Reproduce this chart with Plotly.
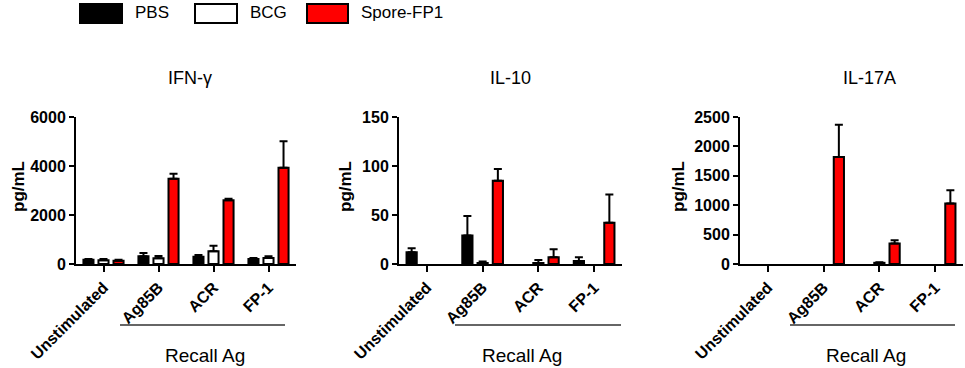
import numpy as np
import plotly.graph_objects as go

W, H = 965, 368
FONT = "Arial, Liberation Sans, sans-serif"

categories = ["Unstimulated", "Ag85B", "ACR", "FP-1"]
groups = ["PBS", "BCG", "Spore-FP1"]
panel_titles = ["IFN-γ", "IL-10", "IL-17A"]

# IFN-gamma (pg/mL): mean and upper error
ifn_pbs = [170, 320, 300, 200]
ifn_pbs_err = [30, 130, 70, 40]
ifn_bcg = [150, 230, 520, 250]
ifn_bcg_err = [50, 100, 230, 70]
ifn_spore = [130, 3480, 2600, 3930]
ifn_spore_err = [40, 200, 60, 1080]

# IL-10 (pg/mL)
il10_pbs = [12, 29, 0, 3]
il10_pbs_err = [4, 20, 0, 4]
il10_bcg = [0, 1, 1, 0]
il10_bcg_err = [0, 1.5, 3, 0]
il10_spore = [0, 85, 7, 42]
il10_spore_err = [0, 12, 8, 29]

# IL-17A (pg/mL)
il17_pbs = [0, 0, 0, 0]
il17_pbs_err = [0, 0, 0, 0]
il17_bcg = [0, 0, 20, 0]
il17_bcg_err = [0, 0, 10, 0]
il17_spore = [0, 1820, 350, 1030]
il17_spore_err = [0, 550, 55, 225]

y_ranges = [[0, 6000], [0, 150], [0, 2500]]
y_tickvals = [[0, 2000, 4000, 6000], [0, 50, 100, 150], [0, 500, 1000, 1500, 2000, 2500]]
y_label = "pg/mL"
recall_label = "Recall Ag"

colors = ["#000000", "#ffffff", "#ff0000"]

panels = [
    [(ifn_pbs, ifn_pbs_err), (ifn_bcg, ifn_bcg_err), (ifn_spore, ifn_spore_err)],
    [(il10_pbs, il10_pbs_err), (il10_bcg, il10_bcg_err), (il10_spore, il10_spore_err)],
    [(il17_pbs, il17_pbs_err), (il17_bcg, il17_bcg_err), (il17_spore, il17_spore_err)],
]

# layout geometry (pixels)
x_doms_px = [(76, 296), (399, 622), (740, 963)]
y_top_px, y_bot_px = 117, 264


def px_x(px):
    return px / W


def px_y(py):
    return (H - py) / H


def err_arrays(vals, errs):
    # no error bar drawn where both the value and its error are zero
    up = np.array([e if (v or e) else np.nan for v, e in zip(vals, errs)], dtype=float)
    down = np.array([0.0 if (v or e) else np.nan for v, e in zip(vals, errs)], dtype=float)
    return up, down


fig = go.Figure()
for p, series in enumerate(panels):
    ax = "" if p == 0 else str(p + 1)
    for g, (vals, errs) in enumerate(series):
        up, down = err_arrays(vals, errs)
        fig.add_trace(go.Bar(
            x=categories, y=vals, name=groups[g], showlegend=False,
            marker=dict(color=colors[g],
                        line=dict(color="#000000", width=[2 if v else 0 for v in vals])),
            error_y=dict(type="data", array=up, arrayminus=down,
                         symmetric=False, color="#000000", thickness=2, width=4),
            offsetgroup=str(g),
            xaxis="x" + ax, yaxis="y" + ax,
        ))

layout = dict(
    template="none",
    width=W, height=H, margin=dict(l=0, r=0, t=0, b=0, autoexpand=False),
    paper_bgcolor="white", plot_bgcolor="white",
    barmode="group", bargap=0.18, bargroupgap=0.33,
    font=dict(family=FONT, color="#000000"),
    showlegend=False,
)
for p in range(3):
    ax = "" if p == 0 else str(p + 1)
    x0, x1 = x_doms_px[p]
    layout["xaxis" + ax] = dict(
        domain=[px_x(x0), px_x(x1)], anchor="y" + ax, automargin=False,
        type="category", range=[-0.5, 3.5],
        showline=True, linecolor="#000000", linewidth=2,
        ticks="outside", ticklen=6, tickwidth=2, tickcolor="#000000",
        tickangle=-45, showgrid=False, zeroline=False,
        tickfont=dict(family=FONT, size=16, weight="bold", color="#000000"),
    )
    layout["yaxis" + ax] = dict(
        domain=[px_y(y_bot_px), px_y(y_top_px)], anchor="x" + ax, automargin=False,
        range=y_ranges[p], tickvals=y_tickvals[p],
        showline=True, linecolor="#000000", linewidth=2,
        ticks="outside", ticklen=5, tickwidth=2, tickcolor="#000000",
        showgrid=False, zeroline=False,
        tickfont=dict(family=FONT, size=16, weight="bold", color="#000000"),
    )
fig.update_layout(**layout)

annotations = []
shapes = []
title_x = [190, 510, 869]
ylab_x = [18, 345, 678]
recall_x = [205, 522, 866]
recall_line = [(120, 285), (455, 621), (790, 955)]
for p in range(3):
    annotations.append(dict(text=panel_titles[p], x=px_x(title_x[p]), y=px_y(78),
                            xref="paper", yref="paper", showarrow=False,
                            xanchor="center", yanchor="middle",
                            font=dict(family=FONT, size=18, color="#000000")))
    annotations.append(dict(text=y_label, x=px_x(ylab_x[p]), y=px_y(187),
                            xref="paper", yref="paper", showarrow=False, textangle=-90,
                            xanchor="center", yanchor="middle",
                            font=dict(family=FONT, size=17, weight="bold", color="#000000")))
    annotations.append(dict(text=recall_label, x=px_x(recall_x[p]), y=px_y(355),
                            xref="paper", yref="paper", showarrow=False,
                            xanchor="center", yanchor="middle",
                            font=dict(family=FONT, size=19, color="#000000")))
    a, b = recall_line[p]
    shapes.append(dict(type="line", xref="paper", yref="paper",
                       x0=px_x(a), x1=px_x(b), y0=px_y(325), y1=px_y(325),
                       line=dict(color="#333333", width=1.5)))

# legend (drawn manually)
legend_boxes = [(80, 122), (195, 237), (307, 348)]
legend_text_x = [133, 248, 359]
for g in range(3):
    a, b = legend_boxes[g]
    shapes.append(dict(type="rect", xref="paper", yref="paper",
                       x0=px_x(a), x1=px_x(b), y0=px_y(23), y1=px_y(4),
                       fillcolor=colors[g], line=dict(color="#000000", width=2)))
    annotations.append(dict(text=groups[g], x=px_x(legend_text_x[g]), y=px_y(13),
                            xref="paper", yref="paper", showarrow=False,
                            xanchor="left", yanchor="middle",
                            font=dict(family=FONT, size=17, color="#000000")))

fig.update_layout(annotations=annotations, shapes=shapes)
fig.write_html(
    "out.html",
    config={"displayModeBar": False},
    post_script="document.body.style.margin='0';document.body.style.overflow='hidden';",
)
